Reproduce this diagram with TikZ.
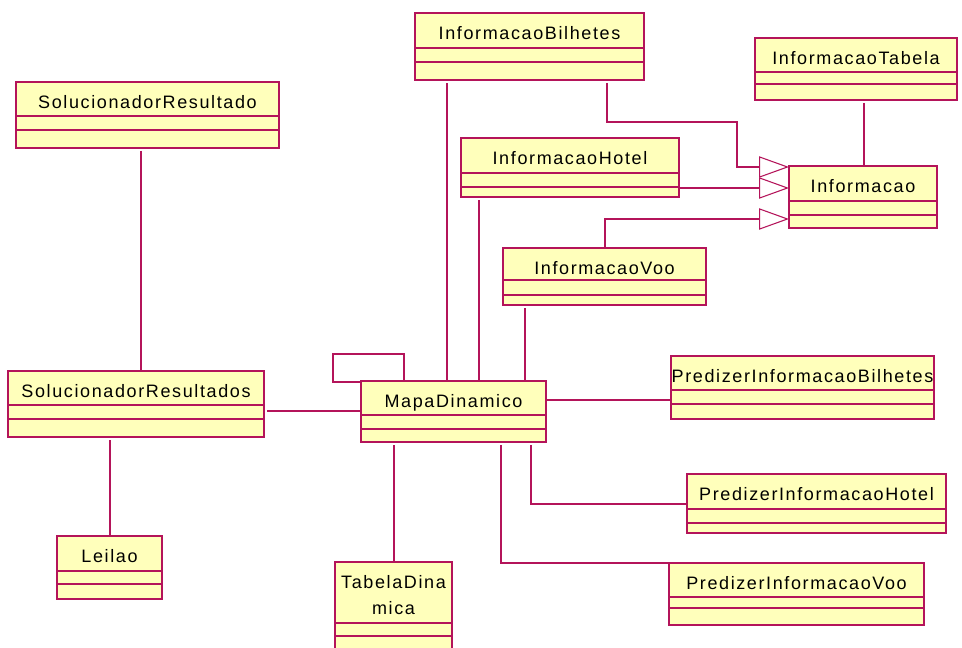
\documentclass[tikz,border=0pt]{standalone}
\usepackage{fontspec}
\setmainfont{Liberation Sans}[LetterSpace=9]
\usetikzlibrary{arrows.meta}

\definecolor{umlline}{RGB}{180,20,90}
\definecolor{umlfill}{RGB}{255,255,187}

\tikzset{
  classbox/.style={draw=umlline,fill=umlfill,line width=1.5pt,inner sep=0pt,outer sep=0pt},
  compline/.style={draw=umlline,line width=1.5pt},
  classname/.style={inner sep=0pt,anchor=north,align=center,font=\fontsize{13.5}{19.5}\selectfont},
  assoc/.style={draw=umlline,line width=1.5pt},
  gen/.style={assoc,-{Triangle[open,length=22.5pt,width=16pt,line width=0.8pt]}},
  gap/.style={shorten <=2.25pt},
  gapend/.style={shorten >=2.25pt}
}

% id, left, top, right, bottom, line 1, line 2, name
\newcommand{\umlclass}[8]{%
  \pgfmathsetmacro\cw{(#4-#2)*0.75}%
  \pgfmathsetmacro\ch{(#5-#3)*0.75}%
  \node[classbox,minimum width=\cw pt,minimum height=\ch pt] (#1) at ({(#2+#4)/2},{(#3+#5)/2}) {};
  \draw[compline] (#1.west |- 0,#6) -- (#1.east |- 0,#6) (#1.west |- 0,#7) -- (#1.east |- 0,#7);
  \node[classname] (#1-t) at ({(#2+#4)/2},{#3+13}) {#8};
}

\begin{document}
\begin{tikzpicture}[x=0.75pt,y=-0.75pt]
 \fill[white] (0,0) rectangle (962,648);
 \useasboundingbox (0,0) rectangle (962,648);

 \umlclass{bilhetes}{415}{13}{644}{80}{48}{62}{InformacaoBilhetes}
 \umlclass{tabela}{755}{38}{957}{100}{72}{84}{InformacaoTabela}
 \umlclass{resultado}{16}{82}{279}{148}{116}{130}{SolucionadorResultado}
 \umlclass{hotel}{461}{138}{679}{197}{173}{187}{InformacaoHotel}
 \umlclass{informacao}{789}{166}{937}{228}{201}{215}{Informacao}
 \umlclass{voo}{503}{248}{706}{305}{280}{295}{InformacaoVoo}
 \umlclass{predbil}{671}{356}{934}{419}{390}{404}{PredizerInformacaoBilhetes}
 \umlclass{resultados}{8}{371}{264}{437}{405}{419}{SolucionadorResultados}
 \umlclass{mapa}{361}{381}{546}{442}{415}{429}{MapaDinamico}
 \umlclass{predhotel}{687}{474}{946}{533}{509}{523}{PredizerInformacaoHotel}
 \umlclass{leilao}{57}{536}{162}{599}{571}{584}{Leilao}
 \umlclass{tabdin}{335}{562}{452}{651}{623}{636}{TabelaDina\\mica}
 \umlclass{predvoo}{669}{563}{924}{625}{597}{608}{PredizerInformacaoVoo}

 \draw[assoc,gap] (resultado.south -| 141,0) -- (resultados.north -| 141,0);
 \draw[assoc,gap] (resultados.south -| leilao.north) -- (leilao.north);
 \draw[assoc,gap] (resultados.east |- 0,411) -- (mapa.west |- 0,411);
 \draw[assoc] (mapa.north -| 404,0) |- (333,354) |- ([yshift=-0.75pt]mapa.north west);
 \draw[assoc,gapend] (mapa.north -| 447,0) -- (bilhetes.south -| 447,0);
 \draw[assoc,gapend] (mapa.north -| 479,0) -- (hotel.south -| 479,0);
 \draw[assoc,gapend] (mapa.north -| 525,0) -- (voo.south -| 525,0);
 \draw[assoc] (mapa.east |- 0,400) -- (predbil.west |- 0,400);
 \draw[assoc,gap] (mapa.south -| 531,0) |- (predhotel.west);
 \draw[assoc,gap] (mapa.south -| 501,0) |- (predvoo.north west);
 \draw[assoc,gap] (mapa.south -| tabdin.north) -- (tabdin.north);
 \draw[assoc,gap] (tabela.south -| 864,0) -- (informacao.north -| 864,0);

 \draw[gen,gap] (bilhetes.south -| 607,0) |- (737,122) |- (informacao.west |- 0,167);
 \draw[gen] (hotel.east |- 0,188) -- (informacao.west |- 0,188);
 \draw[gen] (voo.north) |- (informacao.west |- 0,219);
\end{tikzpicture}
\end{document}
